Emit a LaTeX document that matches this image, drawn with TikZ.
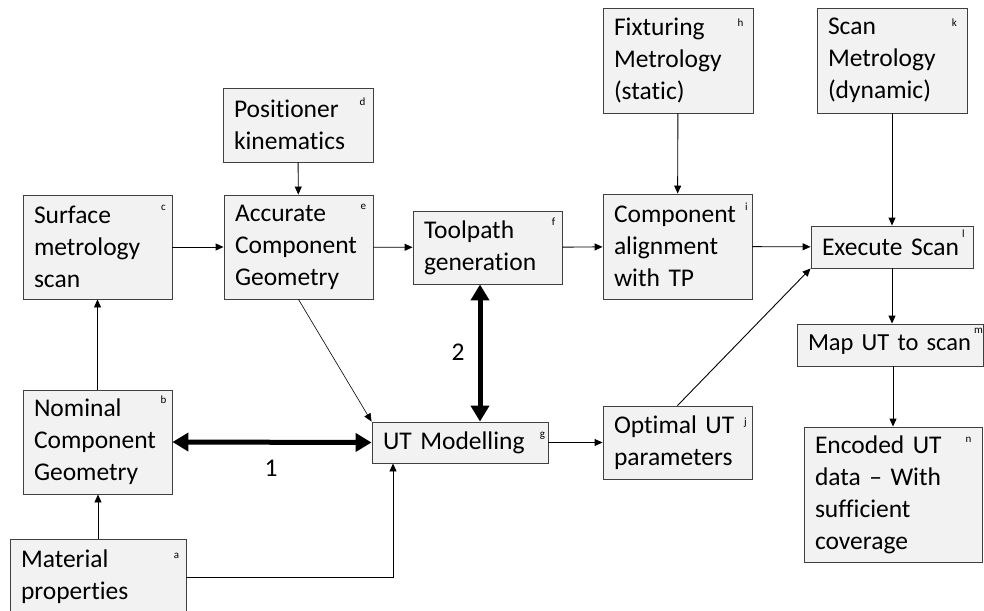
\documentclass[tikz,border=0pt]{standalone}
\usepackage{fontspec}
\setmainfont{Carlito}[Ligatures={NoCommon}]
\usetikzlibrary{arrows.meta, positioning, calc}
\definecolor{boxgrey}{RGB}{242,242,242}
\definecolor{edgegrey}{RGB}{64,64,64}

\begin{document}
\begin{tikzpicture}[x=1pt, y=-1pt,
    blk/.style={draw=edgegrey, line width=0.9pt, fill=boxgrey, inner xsep=11pt, inner ysep=0pt,
                align=left, font=\fontsize{25.5}{32}\selectfont},
    tag/.style={font=\fontsize{11}{13}\selectfont, inner sep=0pt},
    flow/.style={-{Triangle[length=8pt,width=7pt]}, line width=0.9pt},
    bigflow/.style={{Triangle[length=16pt,width=18pt]}-{Triangle[length=16pt,width=18pt]}, line width=5pt},
    num/.style={font=\fontsize{25.5}{32}\selectfont}]
    \useasboundingbox (0,0) rectangle (984,610);

    % left column
    \node[blk, minimum width=176pt, text width=154pt, minimum height=76pt] (a) at (98,577) {Material\\properties};
    \node[blk, minimum width=149pt, text width=127pt, minimum height=104pt] (b) at (97.5,442) {Nominal\\Component\\Geometry};
    \node[blk, minimum width=149pt, text width=127pt, minimum height=104pt] (c) at (97.5,247) {Surface\\metrology\\scan};

    % geometry and toolpath
    \node[blk, minimum width=150pt, text width=128pt, minimum height=74pt] (d) at (298,125) {Positioner\\kinematics};
    \node[blk, minimum width=149pt, text width=127pt, minimum height=104pt] (e) at (298.5,247) {Accurate\\Component\\Geometry};
    \node[blk, minimum width=149pt, text width=127pt, minimum height=73pt] (f) at (487.5,247.5) {Toolpath\\generation};
    \node[blk, minimum width=176pt, text width=154pt, minimum height=41pt] (g) at (460,442.5) {UT~Modelling};

    % alignment
    \node[blk, minimum width=150pt, text width=128pt, minimum height=105pt] (h) at (678,60.5) {Fixturing\\Metrology\\(static)};
    \node[blk, minimum width=149pt, text width=127pt, minimum height=105pt] (i) at (677.5,246.5) {Component\\alignment\\with~TP};
    \node[blk, minimum width=149pt, text width=127pt, minimum height=73pt] (j) at (677.5,442.5) {Optimal~UT\\parameters};

    % scan column
    \node[blk, minimum width=150pt, text width=128pt, minimum height=105pt] (k) at (892,60.5) {Scan\\Metrology\\(dynamic)};
    \node[blk, minimum width=162pt, text width=140pt, minimum height=42pt] (l) at (892,247) {Execute~Scan};
    \node[blk, minimum width=186pt, text width=164pt, minimum height=42pt, font=\fontsize{24.5}{32}\selectfont] (m) at (890,345) {Map~UT~to~scan};
    \node[blk, minimum width=178pt, text width=156pt, minimum height=135pt] (n) at (893,494.5) {Encoded~UT\\data~--~With\\sufficient\\coverage};

    % letters
    \node[tag] (ta) at ([shift={(-10,17)}]a.north east) {a};
    \node[tag] (tb) at ([shift={(-9,10)}]b.north east) {b};
    \node[tag] (tc) at ([shift={(-9,13)}]c.north east) {c};
    \node[tag] (td) at ([shift={(-11,14)}]d.north east) {d};
    \node[tag] (te) at ([shift={(-10,12)}]e.north east) {e};
    \node[tag] (tf) at ([shift={(-9,11)}]f.north east) {f};
    \node[tag] (tg) at ([shift={(-6,14)}]g.north east) {g};
    \node[tag] (th) at ([shift={(-13,15)}]h.north east) {h};
    \node[tag] (ti) at ([shift={(-6,13)}]i.north east) {i};
    \node[tag] (tj) at ([shift={(-7,17)}]j.north east) {j};
    \node[tag] (tk) at ([shift={(-13,15)}]k.north east) {k};
    \node[tag] (tl) at ([shift={(-10,8)}]l.north east) {l};
    \node[tag] (tm) at ([shift={(-5,7)}]m.north east) {m};
    \node[tag] (tn) at ([shift={(-14,13)}]n.north east) {n};

    \coordinate (ga) at (393,0);
    \coordinate (fx) at (480,0);

    % connectors
    \draw[flow] (a.north) -- (a.north |- b.south);
    \draw[flow] (b) -- (c);
    \draw[flow] (c) -- (e);
    \draw[flow] (d) -- (e);
    \draw[flow] (e) -- (f);
    \draw[flow] (f) -- (i);
    \draw[flow] (h) -- (i);
    \draw[flow] (i) -- (l);
    \draw[flow] (k) -- (l);
    \draw[flow] (l.south) -- (l.south |- m.north);
    \draw[flow] (m.south -| n) -- (n.north);
    \draw[flow, line width=0.6pt] (e.south) -- (g.north west);
    \draw[flow] (a.east) -| (g.south -| ga);
    \draw[flow] (g) -- (j);
    \draw[flow] (j.north) -- (l.south west);

    % thick links
    \draw[bigflow] (b.east) -- (g.west);
    \draw[bigflow] (f.south -| fx) -- (g.north -| fx);
    \node[num] (n1) at (271,468) {1};
    \node[num] (n2) at (458,352) {2};
\end{tikzpicture}
\end{document}
